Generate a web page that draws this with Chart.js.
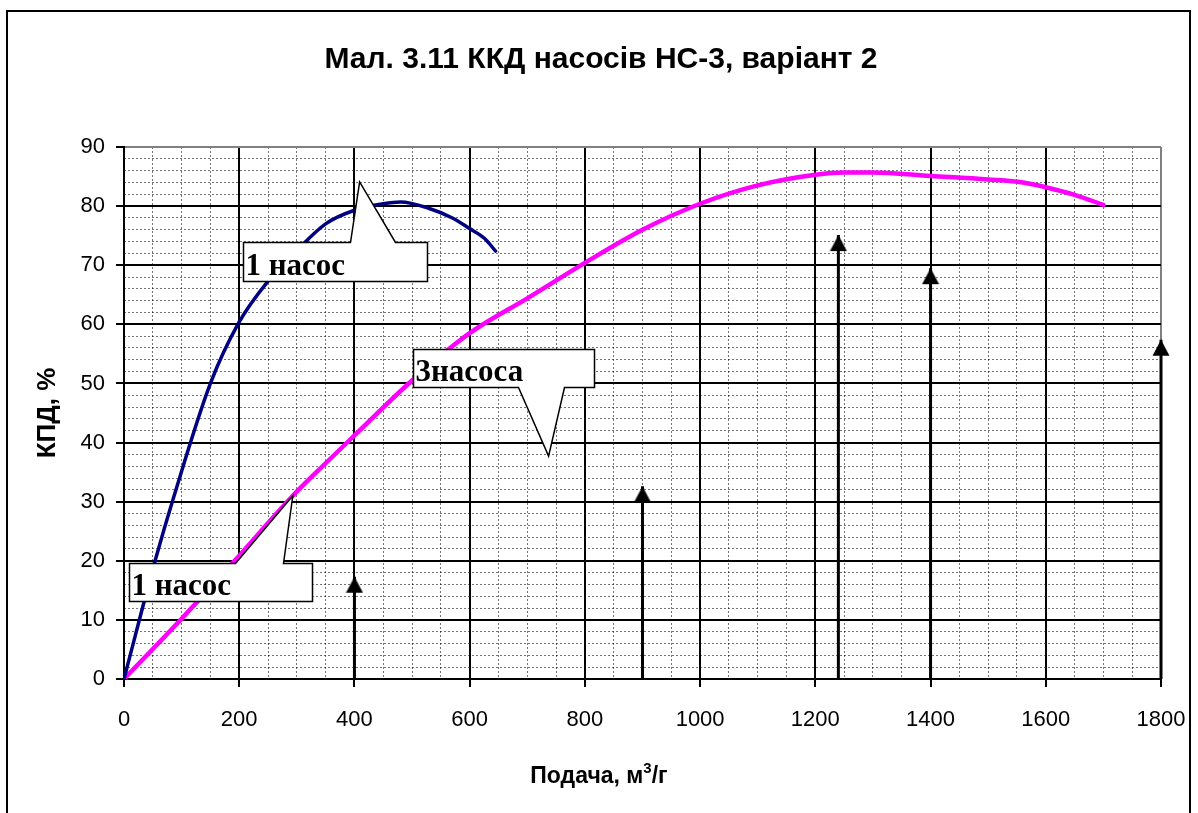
<!DOCTYPE html>
<html><head><meta charset="utf-8">
<script src="https://cdn.jsdelivr.net/npm/chart.js@4/dist/chart.umd.min.js"></script>
<style>html,body{margin:0;padding:0;background:#fff;overflow:hidden}#wrap{position:relative;width:1198px;height:813px}</style>
</head><body><div id="wrap"><canvas id="c" width="1198" height="813"></canvas></div>
<script>
// ---- data ----
const onePumpQ   = [0, 54, 87, 150, 200, 250, 300, 350, 400, 450, 480, 530, 570, 600, 625, 645];
const onePumpEff = [0, 20, 31, 50, 60.4, 67.3, 72.5, 77, 79.3, 80.4, 80.7, 79.6, 78, 76.2, 74.6, 72.4];
const threePumpQ   = [0, 100, 192, 293, 350, 400, 500, 600, 700, 800, 900, 1000, 1100, 1200, 1250, 1300, 1400, 1500, 1560, 1600, 1650, 1700];
const threePumpEff = [0, 10.2, 20, 31, 36.5, 41.2, 50.5, 58.5, 64.4, 70.4, 76, 80.4, 83.5, 85.3, 85.7, 85.7, 85.1, 84.5, 84, 83.2, 81.9, 80.2];
const arrowQ   = [400, 900, 1240, 1400, 1800];
const arrowTop = [17.3, 32.6, 75.1, 69.5, 57.4];
const xTickLabels = [0, 200, 400, 600, 800, 1000, 1200, 1400, 1600, 1800];
const yTickLabels = [0, 10, 20, 30, 40, 50, 60, 70, 80, 90];
const chartTitle = 'Мал. 3.11 ККД насосів НС-3, варіант 2';
const xTitleMain = 'Подача, м', xTitleSup = '3', xTitleEnd = '/г';
const yTitle = 'КПД, %';
const calloutTexts = ['1 насос', '3насоса', '1 насос'];
const calloutTipQ   = [409, 737, 293];
const calloutTipEff = [84.1, 37.7, 31];

// ---- styling / annotation geometry (pixels relative to tip) ----
const calloutGeom = [
  {dx: -117, dy: 60,   w: 184, h: 39, b1: 107, b2: 152, side: 'top'},
  {dx: -136, dy: -107, w: 181, h: 38, b1: 105, b2: 151, side: 'bottom'},
  {dx: -164, dy: 67,   w: 183, h: 38, b1: 106, b2: 154, side: 'top'}
];

const SANS = '"Liberation Sans", Arial, sans-serif';
const SERIF = '"Liberation Serif", "Times New Roman", serif';

// arrowhead image: tip at the centre of the canvas
const head = document.createElement('canvas');
head.width = 18; head.height = 34;
(function(){ const g = head.getContext('2d'); g.fillStyle = '#000'; g.beginPath();
  g.moveTo(9, 17); g.lineTo(17.5, 33); g.lineTo(0.5, 33); g.closePath(); g.fill(); })();

const datasets = [
  {label: '1 насос', data: onePumpQ.map((q,i)=>({x:q, y:onePumpEff[i]})), borderColor: '#000080',
   borderWidth: 3.5, pointRadius: 0, cubicInterpolationMode: 'monotone', fill: false, borderCapStyle: 'round', borderJoinStyle: 'round'},
  {label: '3 насоса', data: threePumpQ.map((q,i)=>({x:q, y:threePumpEff[i]})), borderColor: '#FF00FF',
   borderWidth: 4.5, pointRadius: 0, cubicInterpolationMode: 'monotone', fill: false, borderCapStyle: 'round', borderJoinStyle: 'round'}
];
arrowQ.forEach((q,i)=>{
  datasets.push({label: 'arrow'+i, data: [{x:q, y:0}, {x:q, y:arrowTop[i]}], borderColor: '#000', borderWidth: 3,
    pointStyle: head, pointRadius: ctx => ctx.dataIndex === 1 ? 5 : 0, pointHoverRadius: 0, clip: false, fill: false});
});

const framePlugin = {
  id: 'frame',
  beforeDraw(chart){
    const ctx = chart.ctx; ctx.save(); ctx.fillStyle = '#fff'; ctx.fillRect(0,0,chart.width,chart.height);
    ctx.strokeStyle = '#000'; ctx.lineWidth = 2; ctx.strokeRect(7, 11, 1183, 815); ctx.restore();
  },
  afterDraw(chart){
    const ctx = chart.ctx, xs = chart.scales.x, ys = chart.scales.y;
    // callouts
    calloutTexts.forEach((t,i)=>{
      const g = calloutGeom[i];
      const tx = xs.getPixelForValue(calloutTipQ[i]), ty = ys.getPixelForValue(calloutTipEff[i]);
      const bx = Math.round(tx + g.dx) + 0.5, by = Math.round(ty + g.dy) + 0.5;
      const b1 = bx + g.b1, b2 = bx + g.b2;
      ctx.save();
      ctx.beginPath();
      if (g.side === 'top') {
        ctx.moveTo(bx, by); ctx.lineTo(b1, by); ctx.lineTo(tx, ty); ctx.lineTo(b2, by); ctx.lineTo(bx+g.w, by);
        ctx.lineTo(bx+g.w, by+g.h); ctx.lineTo(bx, by+g.h); ctx.closePath();
      } else {
        ctx.moveTo(bx, by); ctx.lineTo(bx+g.w, by); ctx.lineTo(bx+g.w, by+g.h); ctx.lineTo(b2, by+g.h);
        ctx.lineTo(tx, ty); ctx.lineTo(b1, by+g.h); ctx.lineTo(bx, by+g.h); ctx.closePath();
      }
      ctx.fillStyle = '#fff'; ctx.fill();
      ctx.strokeStyle = '#000'; ctx.lineWidth = 1.5; ctx.lineJoin = 'miter'; ctx.stroke();
      ctx.fillStyle = '#000'; ctx.font = 'bold 31px ' + SERIF; ctx.textBaseline = 'alphabetic'; ctx.textAlign = 'left';
      ctx.fillText(t, bx + 2, by + g.h - 7);
      ctx.restore();
    });
    // titles
    ctx.save(); ctx.fillStyle = '#000';
    ctx.font = 'bold 30px ' + SANS; ctx.textAlign = 'center'; ctx.textBaseline = 'middle';
    ctx.fillText(chartTitle, 601, 60);
    // x axis title with superscript
    const F = 'bold 23px ' + SANS, FS = 'bold 15px ' + SANS;
    ctx.font = F; ctx.textAlign = 'left'; ctx.textBaseline = 'alphabetic';
    const wMain = ctx.measureText(xTitleMain).width;
    ctx.font = FS; const wSup = ctx.measureText(xTitleSup).width;
    ctx.font = F; const wEnd = ctx.measureText(xTitleEnd).width;
    let x0 = 599 - (wMain + wSup + wEnd)/2; const base = 783;
    ctx.fillText(xTitleMain, x0, base);
    ctx.font = FS; ctx.fillText(xTitleSup, x0 + wMain, base - 10);
    ctx.font = F; ctx.fillText(xTitleEnd, x0 + wMain + wSup, base);
    // y axis title
    ctx.translate(48, 413); ctx.rotate(-Math.PI/2); ctx.textAlign = 'center'; ctx.textBaseline = 'middle';
    ctx.font = 'bold 26px ' + SANS; ctx.fillText(yTitle, 0, 0);
    ctx.restore();
  }
};

const noPad = s => { s.paddingLeft = 0; s.paddingRight = 0; s.paddingTop = 0; s.paddingBottom = 0; };

new Chart(document.getElementById('c'), {
  type: 'line',
  data: {datasets},
  options: {
    responsive: false, animation: false, devicePixelRatio: 1,
    layout: {padding: {left: 0, right: 37, top: 147, bottom: 0}},
    plugins: {legend: {display: false}, title: {display: false}, tooltip: {enabled: false}},
    elements: {line: {tension: 0}},
    scales: {
      xMinor: {type: 'linear', position: 'bottom', min: 0, max: 1800,
        ticks: {display: false, stepSize: 50, autoSkip: false},
        grid: {color: 'rgba(0,0,0,0.55)', lineWidth: 1, drawTicks: false, z: -2},
        border: {display: false, dash: [2,2]},
        afterFit: s => { s.height = 0; noPad(s); }},
      yMinor: {type: 'linear', position: 'left', min: 0, max: 90,
        ticks: {display: false, stepSize: 2, autoSkip: false},
        grid: {color: 'rgba(0,0,0,0.55)', lineWidth: 1, drawTicks: false, z: -2},
        border: {display: false, dash: [2,2]},
        afterFit: s => { s.width = 0; noPad(s); }},
      x: {type: 'linear', position: 'bottom', min: 0, max: 1800,
        afterBuildTicks: s => { s.ticks = xTickLabels.map(v => ({value: v})); },
        ticks: {color: '#000', font: {family: SANS, size: 22}, padding: 20, maxRotation: 0, autoSkip: false, callback: v => String(v)},
        grid: {color: c => (c.tick && c.tick.value === 1800) ? '#808080' : '#000', lineWidth: 2, tickLength: 8, tickColor: '#000', tickWidth: 2},
        border: {display: true, color: '#000', width: 2},
        afterFit: s => { s.height = 134; noPad(s); }},
      y: {type: 'linear', position: 'left', min: 0, max: 90,
        afterBuildTicks: s => { s.ticks = yTickLabels.map(v => ({value: v})); },
        ticks: {color: '#000', font: {family: SANS, size: 22}, padding: 11, autoSkip: false, callback: v => String(v)},
        grid: {color: c => (c.tick && c.tick.value === 90) ? '#808080' : '#000', lineWidth: 2, tickLength: 8, tickColor: '#000', tickWidth: 2},
        border: {display: true, color: '#000', width: 2},
        afterFit: s => { s.width = 124; noPad(s); }}
    }
  },
  plugins: [framePlugin]
});
</script></body></html>
